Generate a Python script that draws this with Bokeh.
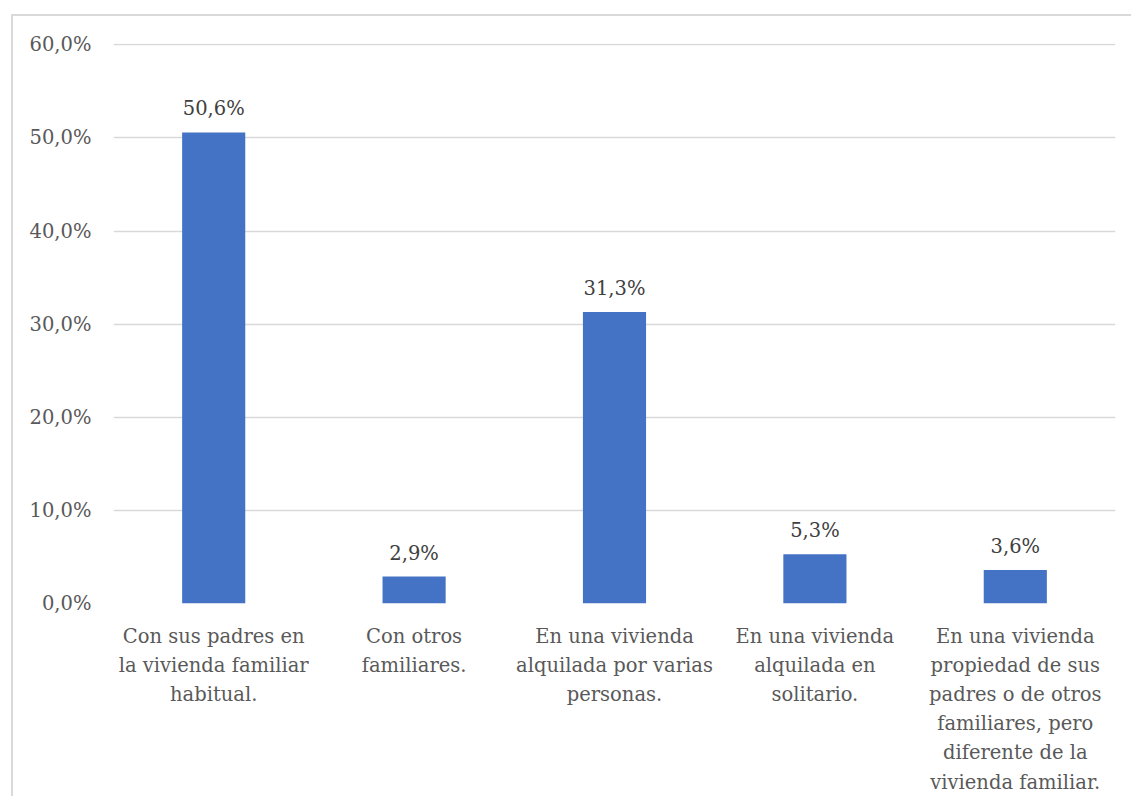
from bokeh.plotting import figure
from bokeh.models import Range1d, FixedTicker, ColumnDataSource
from bokeh.core.properties import value
from bokeh.embed import file_html
from bokeh.resources import INLINE

# Housing situation categories and their shares (%)
category_lines = [
    "Con sus padres en\nla vivienda familiar\nhabitual.",
    "Con otros\nfamiliares.",
    "En una vivienda\nalquilada por varias\npersonas.",
    "En una vivienda\nalquilada en\nsolitario.",
    "En una vivienda\npropiedad de sus\npadres o de otros\nfamiliares, pero\ndiferente de la\nvivienda familiar.",
]
shares = [50.6, 2.9, 31.3, 5.3, 3.6]
share_labels = ["50,6%", "2,9%", "31,3%", "5,3%", "3,6%"]

y_ticks = [0, 10, 20, 30, 40, 50, 60]
y_tick_labels = ["0,0%", "10,0%", "20,0%", "30,0%", "40,0%", "50,0%", "60,0%"]

FONT = "DejaVu Serif"
SIZE = "19.5px"

positions = list(range(len(category_lines)))
source = ColumnDataSource(dict(pos=positions, share=shares, label=share_labels))

p = figure(
    x_range=Range1d(-0.5, len(category_lines) - 0.5),
    y_range=Range1d(0, 60.15),
    width=1120,
    height=782,
    output_backend="svg",
    toolbar_location=None,
    min_border_left=100,
    min_border_right=18,
    min_border_top=27,
    min_border_bottom=195,
)
p.margin = (14, 0, 0, 11)
p.styles = {"border-top": "2px solid #D9D9D9", "border-left": "2px solid #D9D9D9"}
p.outline_line_color = None

p.vbar(x="pos", top="share", width=0.315, source=source,
       fill_color="#4472C4", line_color=None)

p.text(x="pos", y="share", text="label", source=source,
       text_align="center", text_baseline="bottom", y_offset=-12,
       text_font=value(FONT), text_font_size=SIZE, text_color="#404040")

# Axes
p.yaxis.ticker = FixedTicker(ticks=y_ticks)
p.yaxis.major_label_overrides = dict(zip(y_ticks, y_tick_labels))
p.yaxis.axis_line_color = None
p.yaxis.major_tick_line_color = None
p.yaxis.minor_tick_line_color = None
p.yaxis.major_label_standoff = 16
p.yaxis.major_label_text_font = FONT
p.yaxis.major_label_text_font_size = SIZE
p.yaxis.major_label_text_color = "#595959"

p.xaxis.ticker = FixedTicker(ticks=positions)
p.xaxis.major_label_overrides = dict(zip(positions, category_lines))
p.xaxis.axis_line_color = None
p.xaxis.major_tick_line_color = None
p.xaxis.minor_tick_line_color = None
p.xaxis.major_label_standoff = 15
p.xaxis.major_label_text_font = FONT
p.xaxis.major_label_text_font_size = SIZE
p.xaxis.major_label_text_color = "#595959"
p.xaxis.major_label_text_line_height = 1.27

p.xgrid.grid_line_color = None
p.ygrid.grid_line_color = "#D9D9D9"
p.ygrid.grid_line_width = 1.5

open("out.html", "w").write(file_html(p, INLINE))
